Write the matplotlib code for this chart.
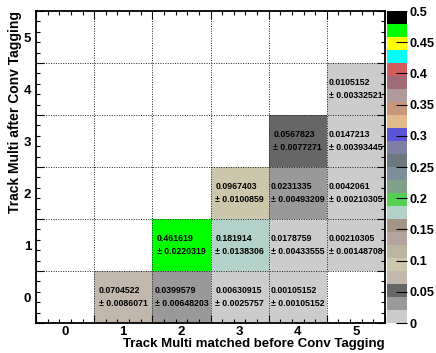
import numpy as np
import matplotlib
matplotlib.use('Agg')
import matplotlib.pyplot as plt
from matplotlib.colors import ListedColormap, BoundaryNorm
from matplotlib.ticker import FixedLocator

plt.rcParams['font.family'] = ['Liberation Sans', 'DejaVu Sans']
plt.rcParams['font.weight'] = 'bold'

# bin contents: (x bin, y bin, value, error)
xbin = [1, 2, 3, 4, 2, 3, 4, 5, 3, 4, 5, 4, 5, 5]
ybin = [0, 0, 0, 0, 1, 1, 1, 1, 2, 2, 2, 3, 3, 4]
vals = [0.0704522, 0.0399579, 0.00630915, 0.00105152,
        0.461619, 0.181914, 0.0178759, 0.00210305,
        0.0967403, 0.0231335, 0.0042061,
        0.0567823, 0.0147213,
        0.0105152]
errs = [0.0086071, 0.00648203, 0.0025757, 0.00105152,
        0.0220319, 0.0138306, 0.00433555, 0.00148708,
        0.0100859, 0.00493209, 0.00210305,
        0.0077271, 0.00393445,
        0.00332521]

nbins = 6
xtitle = 'Track Multi matched before Conv Tagging'
ytitle = 'Track Multi after Conv Tagging'

# palette, bottom to top (24 levels between 0 and 0.5)
palette = ['#cccccc', '#999999', '#666666', '#c1b7ad', '#ccc7ab', '#bab59f',
           '#b5a39d', '#a39586', '#b1d1c9', '#56d052', '#80a08a', '#7a8f9a',
           '#6b7880', '#8080a5', '#5a55d8', '#e0ba8a', '#c9977a', '#b09a9c',
           '#9e6b76', '#d35c5c', '#00ffff', '#ffff00', '#00ff00', '#000000']
zmax = 0.5

H = np.zeros((nbins, nbins))
for i, j, v in zip(xbin, ybin, vals):
    H[j, i] = v
H = np.ma.masked_equal(H, 0)

cmap = ListedColormap(palette)
cmap.set_bad('white')
norm = BoundaryNorm(np.linspace(0, zmax, len(palette) + 1), cmap.N)

fig = plt.figure(figsize=(4.36, 3.53), dpi=100)
ax = fig.add_axes([36/436, 30/353, 349/436, 312/353])
edges = np.arange(-0.5, nbins, 1.0)
mesh = ax.pcolormesh(edges, edges, H, cmap=cmap, norm=norm)

# grid on bin edges
for e in edges[1:-1]:
    ax.axvline(e, color='#222222', lw=0.7, ls=(0, (1, 1.5)), zorder=2)
    ax.axhline(e, color='#222222', lw=0.7, ls=(0, (1, 1.5)), zorder=2)

for i, j, v, e in zip(xbin, ybin, vals, errs):
    ax.text(i, j, f'{v:g}\n\u00b1 {e:g}', ha='center', va='center',
            multialignment='left', fontsize=6.3, fontweight='bold',
            linespacing=1.45, zorder=3)

ax.set_xlim(-0.5, nbins - 0.5)
ax.set_ylim(-0.5, nbins - 0.5)
minor = np.round(np.arange(-0.5, nbins - 0.5 + 0.01, 0.2), 2)
for axis in (ax.xaxis, ax.yaxis):
    axis.set_major_locator(FixedLocator(edges))
    axis.set_minor_locator(FixedLocator(minor))
ax.tick_params(which='both', direction='in', top=True, right=True,
               labelbottom=False, labelleft=False, width=0.8, color='black')
ax.tick_params(which='major', length=5.8)
ax.tick_params(which='minor', length=2.9)
for s in ax.spines.values():
    s.set_linewidth(1.3)

# bin labels at the bin centres
secx = ax.secondary_xaxis('bottom')
secx.set_xticks(range(nbins))
secx.tick_params(length=0, pad=2.5, labelsize=9.5)
secx.spines['bottom'].set_visible(False)
secy = ax.secondary_yaxis('left')
secy.set_yticks(range(nbins))
secy.tick_params(length=0, pad=3.5, labelsize=9.5)
secy.spines['left'].set_visible(False)
for t in secx.get_xticklabels() + secy.get_yticklabels():
    t.set_fontweight('bold')

ax.text(1.0, -0.068, xtitle, transform=ax.transAxes, ha='right', va='center',
        fontsize=9.5, fontweight='bold')
ax.text(-0.060, 1.0, ytitle, transform=ax.transAxes, ha='center', va='top',
        rotation=90, fontsize=10, fontweight='bold')

# colour palette axis
cax = fig.add_axes([387/436, 30/353, 20/436, 312/353])
cticks = np.round(np.arange(0, zmax + 0.001, 0.05), 2)
cb = fig.colorbar(mesh, cax=cax, ticks=cticks)
cb.outline.set_visible(False)
cb.ax.set_yticklabels([f'{t:g}' for t in cticks])
cb.ax.tick_params(direction='in', length=8, width=0.8, pad=2, labelsize=9.2)
cb.ax.minorticks_off()
for t in cb.ax.get_yticklabels():
    t.set_fontweight('bold')

fig.savefig('out.png', dpi=100)
